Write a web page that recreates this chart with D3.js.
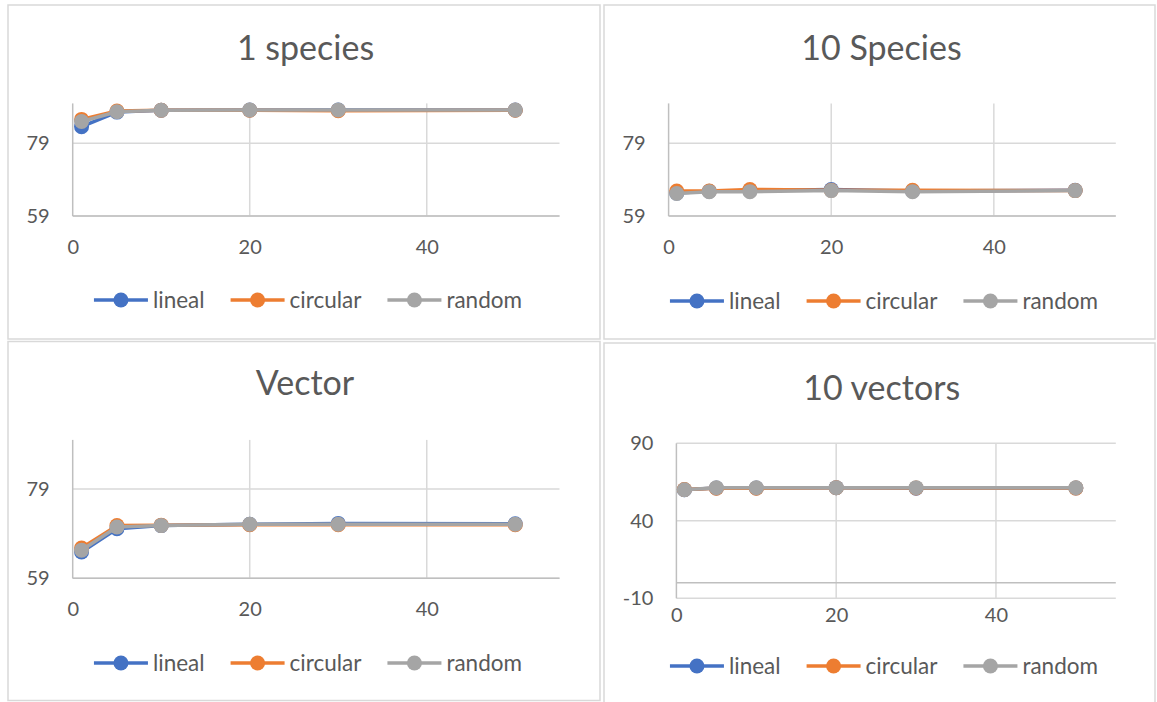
<!DOCTYPE html>
<html>
<head>
<meta charset="utf-8">
<script src="https://cdn.jsdelivr.net/npm/d3@7"></script>
<style>
  html, body { margin: 0; padding: 0; background: #fff; }
  svg { display: block; font-family: Lato, "Open Sans", sans-serif; }
</style>
</head>
<body>
<svg id="chart" width="1157" height="702"></svg>
<script>
// Number of iterations on the x axis
const xValues = [1, 5, 10, 20, 30, 50];
const seriesNames = ["lineal", "circular", "random"];
const seriesColors = ["#4472C4", "#ED7D31", "#A5A5A5"];
const panelTitles = ["1 species", "10 Species", "Vector", "10 vectors"];

// 1 species
const species1Lineal   = [83.6, 87.6, 88.1, 88.2, 88.2, 88.2];
const species1Circular = [85.6, 87.9, 88.1, 88.1, 88.0, 88.1];
const species1Random   = [85.0, 87.7, 88.1, 88.2, 88.2, 88.2];

// 10 Species
const species10Lineal   = [65.3, 65.8, 66.0, 66.3, 65.9, 66.1];
const species10Circular = [65.9, 65.9, 66.3, 66.1, 66.1, 66.0];
const species10Random   = [65.2, 65.7, 65.7, 66.0, 65.7, 66.0];

// Vector
const vectorLineal   = [64.9, 70.1, 70.8, 71.1, 71.3, 71.2];
const vectorCircular = [65.8, 70.8, 70.9, 71.0, 71.0, 71.0];
const vectorRandom   = [65.3, 70.5, 70.8, 71.1, 71.1, 71.1];

// 10 vectors
const vectors10Lineal   = [60.0, 61.2, 61.2, 61.4, 61.0, 61.2];
const vectors10Circular = [60.2, 61.0, 61.0, 61.3, 61.2, 61.1];
const vectors10Random   = [60.0, 61.3, 61.3, 61.4, 61.4, 61.3];

// Axis settings
const xDomain = [0, 55];
const xTickValues = [0, 20, 40];
const yDomainSpecies = [59, 90];
const yTicksSpecies = [59, 79];
const yDomainVectors = [-10, 90];
const yTicksVectors = [-10, 40, 90];

const panelData = [
  [species1Lineal, species1Circular, species1Random],
  [species10Lineal, species10Circular, species10Random],
  [vectorLineal, vectorCircular, vectorRandom],
  [vectors10Lineal, vectors10Circular, vectors10Random]
];
const panelYDomains = [yDomainSpecies, yDomainSpecies, yDomainSpecies, yDomainVectors];
const panelYTicks = [yTicksSpecies, yTicksSpecies, yTicksSpecies, yTicksVectors];

// Page layout of the four chart boxes
const layout = [
  { box: [8, 5, 600, 339],     plot: [72.7, 103.4, 559.5, 216],   titleX: 305.5, titleY: 60,  legendY: 300, legendCx: 308, xLabelPad: 24, zeroLine: false },
  { box: [604, 5, 1155, 339],  plot: [668.6, 103.4, 1115.8, 216], titleX: 881.5, titleY: 60,  legendY: 301, legendCx: 884, xLabelPad: 24, zeroLine: false },
  { box: [8, 341.5, 600, 700.5], plot: [72.7, 439.9, 559.5, 578.3], titleX: 305, titleY: 395, legendY: 663, legendCx: 308, xLabelPad: 24, zeroLine: false },
  { box: [604, 343, 1155, 708], plot: [676.4, 443.3, 1115.8, 598.3], titleX: 881.7, titleY: 400, legendY: 666, legendCx: 884, xLabelPad: 10, zeroLine: true }
];

const textColor = "#595959";
const gridColor = "#D9D9D9";
const axisColor = "#BFBFBF";
const lineWidth = 3.5;
const markerR = 7.5;
const plainNumber = d => String(d);

const svg = d3.select("#chart");

panelTitles.forEach((title, p) => {
  const L = layout[p];
  const [bx0, by0, bx1, by1] = L.box;
  const [px0, py0, px1, py1] = L.plot;

  const g = svg.append("g").attr("class", "panel");

  g.append("rect")
    .attr("x", bx0).attr("y", by0)
    .attr("width", bx1 - bx0).attr("height", by1 - by0)
    .attr("fill", "#fff")
    .attr("stroke", gridColor)
    .attr("stroke-width", 1.5);

  const x = d3.scaleLinear().domain(xDomain).range([px0, px1]);
  const y = d3.scaleLinear().domain(panelYDomains[p]).range([py1, py0]);

  // vertical gridlines
  g.append("g")
    .selectAll("line")
    .data(xTickValues.filter(v => v !== 0))
    .join("line")
    .attr("x1", d => x(d)).attr("x2", d => x(d))
    .attr("y1", py0).attr("y2", py1)
    .attr("stroke", gridColor).attr("stroke-width", 1.5);

  // horizontal gridlines
  g.append("g")
    .selectAll("line")
    .data(panelYTicks[p])
    .join("line")
    .attr("x1", px0).attr("x2", px1)
    .attr("y1", d => y(d)).attr("y2", d => y(d))
    .attr("stroke", gridColor).attr("stroke-width", 1.5);

  // axis lines
  const baseVal = L.zeroLine ? 0 : panelYDomains[p][0];
  g.append("line")
    .attr("x1", px0).attr("x2", px1)
    .attr("y1", y(baseVal)).attr("y2", y(baseVal))
    .attr("stroke", axisColor).attr("stroke-width", 1.5);
  g.append("line")
    .attr("x1", x(0)).attr("x2", x(0))
    .attr("y1", py0).attr("y2", py1)
    .attr("stroke", axisColor).attr("stroke-width", 1.5);

  // y axis labels
  const yAxis = g.append("g")
    .attr("transform", `translate(${px0},0)`)
    .call(d3.axisLeft(y).tickValues(panelYTicks[p]).tickSize(0).tickPadding(23).tickFormat(plainNumber));
  yAxis.select(".domain").remove();
  yAxis.selectAll("text")
    .attr("fill", textColor)
    .style("font-size", "20px")
    .style("font-family", "Lato, sans-serif");

  // x axis labels
  const xAxis = g.append("g")
    .attr("transform", `translate(0,${py1})`)
    .call(d3.axisBottom(x).tickValues(xTickValues).tickSize(0).tickPadding(L.xLabelPad).tickFormat(plainNumber));
  xAxis.select(".domain").remove();
  xAxis.selectAll("text")
    .attr("fill", textColor)
    .style("font-size", "20px")
    .style("font-family", "Lato, sans-serif");

  // series lines and markers
  const line = d3.line().x((d, i) => x(xValues[i])).y(d => y(d));
  panelData[p].forEach((vals, s) => {
    g.append("path")
      .datum(vals)
      .attr("d", line)
      .attr("fill", "none")
      .attr("stroke", seriesColors[s])
      .attr("stroke-width", lineWidth)
      .attr("stroke-linejoin", "round")
      .attr("stroke-linecap", "round");
    g.append("g")
      .selectAll("circle")
      .data(vals)
      .join("circle")
      .attr("cx", (d, i) => x(xValues[i]))
      .attr("cy", d => y(d))
      .attr("r", markerR)
      .attr("fill", seriesColors[s]);
  });

  // title
  g.append("text")
    .attr("x", L.titleX).attr("y", L.titleY)
    .attr("text-anchor", "middle")
    .attr("fill", textColor)
    .style("font-size", "34px")
    .text(title);

  // legend
  const leg = g.append("g");
  const symLen = 54, textGap = 5, itemGap = 26;
  let cursor = 0;
  seriesNames.forEach((name, s) => {
    const item = leg.append("g").attr("transform", `translate(${cursor},0)`);
    item.append("line")
      .attr("x1", 0).attr("x2", symLen)
      .attr("y1", 0).attr("y2", 0)
      .attr("stroke", seriesColors[s]).attr("stroke-width", lineWidth);
    item.append("circle")
      .attr("cx", symLen / 2).attr("cy", 0).attr("r", markerR)
      .attr("fill", seriesColors[s]);
    const t = item.append("text")
      .attr("x", symLen + textGap).attr("y", 0)
      .attr("dy", "0.35em")
      .attr("fill", textColor)
      .style("font-size", "22.5px")
      .text(name);
    cursor += symLen + textGap + t.node().getComputedTextLength() + itemGap;
  });
  const legW = cursor - itemGap;
  leg.attr("transform", `translate(${L.legendCx - legW / 2},${L.legendY})`);
});
</script>
</body>
</html>
